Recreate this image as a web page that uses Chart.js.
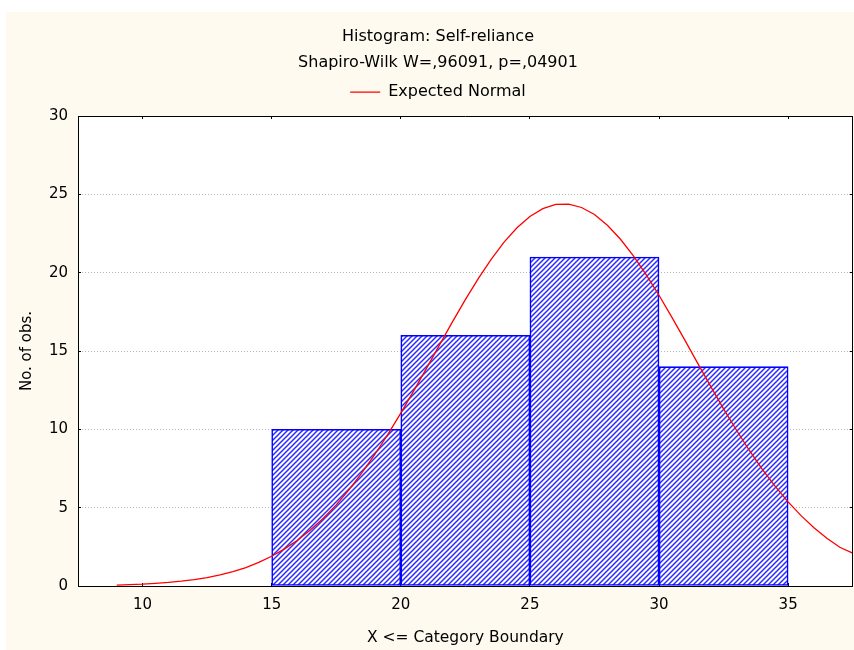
<!DOCTYPE html>
<html>
<head>
<meta charset="utf-8">
<script src="https://cdn.jsdelivr.net/npm/chart.js@4/dist/chart.umd.min.js"></script>
<style>
  html, body { margin: 0; padding: 0; background: #ffffff; overflow: hidden; width: 854px; height: 650px; }
  #wrap { position: absolute; left: 6px; top: 12px; width: 864px; height: 638px; background: #FFFAEF; }
  canvas { display: block; }
</style>
</head>
<body>
<div id="wrap"><canvas id="c" width="864" height="638"></canvas></div>
<script>
// ---- data ----
const chartTitle = 'Histogram: Self-reliance';
const chartSubtitle = 'Shapiro-Wilk W=,96091, p=,04901';
const legendLabel = 'Expected Normal';
const xAxisTitle = 'X <= Category Boundary';
const yAxisTitle = 'No. of obs.';

const binUpper = [20, 25, 30, 35];      // category boundaries (X <= boundary)
const binWidth = 5;
const counts = [10, 16, 21, 14];        // No. of obs.

const normX = [9, 9.5, 10, 10.5, 11, 11.5, 12, 12.5, 13, 13.5, 14, 14.5, 15, 15.5, 16, 16.5, 17, 17.5, 18, 18.5,
  19, 19.5, 20, 20.5, 21, 21.5, 22, 22.5, 23, 23.5, 24, 24.5, 25, 25.5, 26, 26.5, 27, 27.5, 28, 28.5,
  29, 29.5, 30, 30.5, 31, 31.5, 32, 32.5, 33, 33.5, 34, 34.5, 35, 35.5, 36, 36.5, 37, 37.5];
const normY = [0.06, 0.09, 0.12, 0.17, 0.23, 0.31, 0.41, 0.54, 0.71, 0.92, 1.18, 1.51, 1.90, 2.37, 2.92, 3.57, 4.33, 5.18, 6.15, 7.23,
  8.41, 9.68, 11.03, 12.45, 13.91, 15.39, 16.86, 18.28, 19.62, 20.85, 21.95, 22.87, 23.59, 24.09, 24.36, 24.38, 24.16, 23.71, 23.03, 22.15,
  21.09, 19.88, 18.56, 17.15, 15.69, 14.21, 12.74, 11.31, 9.94, 8.65, 7.45, 6.36, 5.37, 4.49, 3.72, 3.05, 2.47, 2.10];

const xMin = 7.5, xMax = 37.5;
const xTickValues = [10, 15, 20, 25, 30, 35];
const yMin = 0, yMax = 30;
const yTickValues = [0, 5, 10, 15, 20, 25, 30];

// ---- hatch pattern ----
const pc = document.createElement('canvas');
pc.width = 5; pc.height = 5;
const g = pc.getContext('2d');
g.fillStyle = '#ffffff'; g.fillRect(0, 0, 5, 5);
g.strokeStyle = '#2a2aff'; g.lineWidth = 1.5;
g.beginPath();
g.moveTo(-1, 6); g.lineTo(6, -1);
g.moveTo(-1, 1); g.lineTo(1, -1);
g.moveTo(4, 6); g.lineTo(6, 4);
g.stroke();
const hatch = g.createPattern(pc, 'repeat');

const FONT = "'DejaVu Sans', Verdana, sans-serif";
Chart.defaults.font.family = FONT;
Chart.defaults.color = '#000';

const plotBg = {
  id: 'plotBg',
  beforeDraw(chart) {
    const a = chart.chartArea, c = chart.ctx;
    c.save(); c.fillStyle = '#ffffff';
    c.fillRect(a.left, a.top, a.right - a.left, a.bottom - a.top);
    c.restore();
  }
};

const tickFont = { family: FONT, size: 15, lineHeight: 1.2 };

new Chart(document.getElementById('c'), {
  type: 'bar',
  data: {
    datasets: [
      {
        type: 'line',
        label: legendLabel,
        data: normX.map((x, i) => ({ x: x, y: normY[i] })),
        borderColor: '#ff0000',
        backgroundColor: '#ff0000',
        borderWidth: 1.3,
        pointRadius: 0,
        fill: false,
        tension: 0,
        order: 0
      },
      {
        type: 'bar',
        label: 'Counts',
        data: binUpper.map((u, i) => ({ x: u - binWidth / 2, y: counts[i] })),
        backgroundColor: hatch,
        borderColor: '#0000ff',
        borderWidth: 1.6,
        borderSkipped: false,
        barPercentage: 1,
        categoryPercentage: 1,
        order: 1
      }
    ]
  },
  options: {
    responsive: false,
    animation: false,
    events: [],
    layout: { padding: 0 },
    plugins: {
      tooltip: { enabled: false },
      title: {
        display: true, text: chartTitle, color: '#000',
        font: { family: FONT, size: 16, weight: 'normal', lineHeight: 1.2 },
        padding: { top: 15.4, bottom: 0 }
      },
      subtitle: {
        display: true, text: chartSubtitle, color: '#000',
        font: { family: FONT, size: 16, weight: 'normal', lineHeight: 1.2 },
        padding: { top: 6.8, bottom: 0 }
      },
      legend: {
        display: true, position: 'top',
        labels: {
          filter: (item) => item.datasetIndex === 0,
          usePointStyle: true, pointStyle: 'line', pointStyleWidth: 30,
          padding: 11.6, color: '#000',
          font: { family: FONT, size: 16 }
        }
      }
    },
    scales: {
      x: {
        type: 'linear', position: 'bottom', min: xMin, max: xMax, offset: false,
        afterBuildTicks: (s) => { s.ticks = xTickValues.map(v => ({ value: v })); },
        afterFit: (s) => { s.height = 64; },
        ticks: { autoSkip: false, maxRotation: 0, padding: 13, font: tickFont, color: '#000' },
        grid: { display: true, drawOnChartArea: false, drawTicks: true, tickLength: -3, tickColor: '#000', offset: false, color: '#000' },
        border: { display: true, color: '#000', width: 1, z: 1 },
        title: { display: true, text: xAxisTitle, color: '#000', font: { family: FONT, size: 15.5, lineHeight: 1.2 }, padding: { top: 0, bottom: 2.7 } }
      },
      x2: {
        type: 'linear', position: 'top', min: xMin, max: xMax, offset: false,
        afterBuildTicks: (s) => { s.ticks = xTickValues.map(v => ({ value: v })); },
        afterFit: (s) => { s.height = 5.8; },
        ticks: { display: false },
        grid: { display: true, drawOnChartArea: false, drawTicks: true, tickLength: -3, tickColor: '#000', offset: false },
        border: { display: true, color: '#000', width: 1, z: 1 }
      },
      y: {
        type: 'linear', position: 'left', min: yMin, max: yMax,
        afterBuildTicks: (s) => { s.ticks = yTickValues.map(v => ({ value: v })); },
        afterFit: (s) => { s.width = 72; },
        ticks: { padding: 13, font: tickFont, color: '#000' },
        grid: { display: true, drawOnChartArea: true, drawTicks: true, tickLength: -3, color: '#b4b4b4', tickColor: '#000', lineWidth: 1 },
        border: { display: true, color: '#000', width: 1, dash: [1, 2], z: 1 },
        title: { display: true, text: yAxisTitle, color: '#000', font: { family: FONT, size: 15, lineHeight: 1.2 }, padding: { top: 12, bottom: 0 } }
      },
      y2: {
        type: 'linear', position: 'right', min: yMin, max: yMax,
        afterBuildTicks: (s) => { s.ticks = yTickValues.map(v => ({ value: v })); },
        afterFit: (s) => { s.width = 17.3; },
        ticks: { display: false },
        grid: { display: true, drawOnChartArea: false, drawTicks: true, tickLength: -3, tickColor: '#000' },
        border: { display: true, color: '#000', width: 1, z: 1 }
      }
    }
  },
  plugins: [plotBg]
});
</script>
</body>
</html>
